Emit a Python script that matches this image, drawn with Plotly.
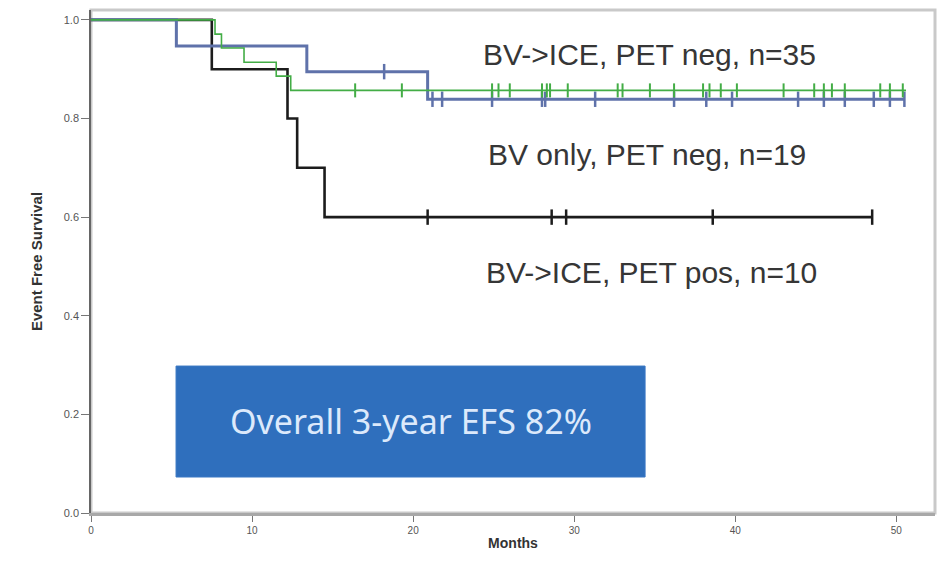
import plotly.graph_objects as go

# ---- data ----
# Kaplan-Meier step points (time in months, survival)
pos_t = [0, 7.5, 12.2, 12.8, 14.5]
pos_s = [1.0, 0.9, 0.8, 0.7, 0.6]
pos_end = 48.5
pos_cens = [20.9, 28.6, 29.5, 38.6, 48.5]

bv_t = [0, 5.3, 13.4, 20.9]
bv_s = [1.0, 0.947, 0.895, 0.839]
bv_end = 50.5
bv_cens = [18.2, 21.2, 21.8, 24.9, 28.0, 28.2, 31.3, 36.2, 38.2, 39.8,
           43.9, 45.5, 46.8, 48.6, 49.6, 50.5]

neg_t = [0, 7.7, 8.1, 9.5, 11.5, 12.4]
neg_s = [1.0, 0.971, 0.943, 0.914, 0.886, 0.857]
neg_end = 50.6
neg_cens = [16.4, 19.3, 24.9, 25.3, 26.0, 28.0, 28.3, 28.5, 29.6, 32.7,
            33.0, 34.7, 36.2, 38.0, 38.4, 39.1, 40.1, 43.0, 44.9, 45.5,
            46.0, 46.8, 49.0, 49.6, 50.4]

labels = ["BV->ICE, PET pos, n=10", "BV only, PET neg, n=19", "BV->ICE, PET neg, n=35"]
label_x = [34.8, 34.5, 34.7]
label_y = [0.487, 0.726, 0.929]

x_ticks = [0, 10, 20, 30, 40, 50]
y_ticks = [0.0, 0.2, 0.4, 0.6, 0.8, 1.0]


def level_at(ts, ss, x):
    v = ss[0]
    for t, s in zip(ts, ss):
        if t <= x:
            v = s
    return v


fig = go.Figure()


def add_curve(ts, ss, end, cens, color, width, msize, mwidth):
    xs = list(ts) + [end]
    ys = list(ss) + [ss[-1]]
    fig.add_trace(go.Scatter(x=xs, y=ys, mode="lines",
                             line=dict(color=color, width=width, shape="hv"),
                             hoverinfo="skip", showlegend=False))
    fig.add_trace(go.Scatter(x=cens, y=[level_at(ts, ss, c) for c in cens],
                             mode="markers",
                             marker=dict(symbol="line-ns", size=msize,
                                         line=dict(color=color, width=mwidth)),
                             hoverinfo="skip", showlegend=False))


add_curve(pos_t, pos_s, pos_end, pos_cens, "#1c1c1c", 2.6, 11, 2.5)
add_curve(bv_t, bv_s, bv_end, bv_cens, "#5f72aa", 3.0, 11, 2.5)
add_curve(neg_t, neg_s, neg_end, neg_cens, "#43ad46", 1.6, 10, 2.0)

for txt, lx, ly in zip(labels, label_x, label_y):
    fig.add_annotation(x=lx, y=ly, text=txt, showarrow=False,
                       font=dict(family="Liberation Sans, Arial", size=30, color="#363636"))

# blue box
fig.add_shape(type="rect", x0=5.28, x1=34.4, y0=0.073, y1=0.298,
              fillcolor="#2f6fbd", line=dict(color="#3b78c4", width=1), layer="above")
fig.add_annotation(x=19.84, y=0.186, text="Overall 3-year EFS 82%", showarrow=False,
                   font=dict(family="Noto Sans", size=34, color="#dce9fb"))

# frame (top/right light gray)
fig.add_shape(type="rect", xref="paper", yref="paper", x0=0, x1=1, y0=0, y1=1,
              line=dict(color="#c9c9c9", width=3), layer="below")

fig.update_layout(
    width=943, height=564,
    margin=dict(l=91, r=8, t=10, b=51),
    paper_bgcolor="white", plot_bgcolor="white",
    xaxis=dict(range=[0, 52.4], tickvals=x_ticks, ticks="outside", ticklen=6,
               tickcolor="#777", showgrid=False, zeroline=False,
               showline=True, linecolor="#a8a8a8", linewidth=3,
               tickfont=dict(family="Liberation Sans", size=10, color="#555"),
               title=dict(text="<b>Months</b>", standoff=4,
                          font=dict(family="Liberation Sans Narrow, Liberation Sans", size=14, color="#333"))),
    yaxis=dict(range=[0, 1.02], tickvals=y_ticks, tickformat=".1f", ticks="outside",
               ticklen=8, tickcolor="#777", showgrid=False, zeroline=False,
               showline=True, linecolor="#666", linewidth=1.5,
               tickfont=dict(family="Liberation Sans", size=11, color="#555"),
               title=dict(text="<b>Event Free Survival</b>", standoff=18,
                          font=dict(family="Liberation Sans Narrow, Liberation Sans", size=15, color="#333"))),
)

fig.write_html("out.html")
